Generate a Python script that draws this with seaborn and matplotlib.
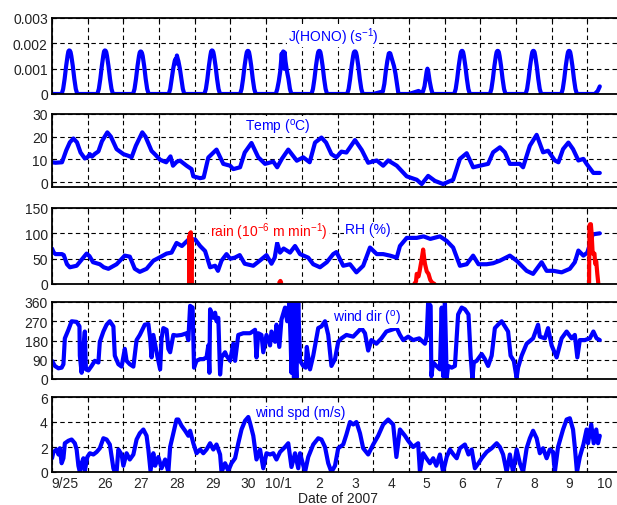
import numpy as np
import pandas as pd
import matplotlib
matplotlib.use("Agg")
import matplotlib.pyplot as plt
import seaborn as sns

sns.set_style("ticks")
plt.rcParams["font.family"] = ["Liberation Sans", "DejaVu Sans"]
plt.rcParams["mathtext.default"] = "regular"
plt.rcParams["font.size"] = 10

# ---------------- data (days since 9/25 00:00, 2007) ----------------
day_labels = ["9/25", "26", "27", "28", "29", "30", "10/1", "2", "3", "4",
              "5", "6", "7", "8", "9", "10"]

# J(HONO): sample hours of each day and the value rows for days 0..14
j_hours = [0, 6.5, 7.5, 8.5, 9.5, 10.5, 11, 11.5, 12, 12.5, 13, 14, 15, 16, 17]
j_day_rows = [
    [0, 0, 0.0002, 0.0006, 0.0011, 0.00152, 0.00168, 0.00172, 0.00171, 0.00165, 0.0015, 0.0011, 0.0006, 0.0002, 0],
    [0, 0, 0.0002, 0.0006, 0.0011, 0.00152, 0.00168, 0.00172, 0.00171, 0.00165, 0.0015, 0.0011, 0.0006, 0.0002, 0],
    [0, 0, 0.0002, 0.0006, 0.0011, 0.0015, 0.00164, 0.00168, 0.00167, 0.00162, 0.0015, 0.0011, 0.0006, 0.0002, 0],
    [0, 0, 0.0002, 0.0006, 0.0010, 0.0013, 0.00138, 0.0012, 0.00152, 0.0014, 0.0013, 0.0010, 0.0006, 0.0002, 0],
    [0, 0, 0.0002, 0.0006, 0.0011, 0.00152, 0.00168, 0.00172, 0.00171, 0.00165, 0.0015, 0.0011, 0.0006, 0.0002, 0],
    [0, 0, 0.0002, 0.0006, 0.0011, 0.0015, 0.00165, 0.0017, 0.0017, 0.00165, 0.0015, 0.0011, 0.0006, 0.0002, 0],
    [0, 0, 0.0002, 0.0005, 0.0009, 0.0016, 0.0011, 0.00168, 0.0010, 0.00164, 0.0013, 0.0009, 0.0006, 0.0002, 0],
    [0, 0, 0.0002, 0.0006, 0.0011, 0.0015, 0.00165, 0.0017, 0.0017, 0.00165, 0.0015, 0.0011, 0.0006, 0.0002, 0],
    [0, 0, 0.0002, 0.0006, 0.0011, 0.0015, 0.00164, 0.00168, 0.00168, 0.00163, 0.0015, 0.0011, 0.0006, 0.0002, 0],
    [0, 0.0001, 0.0004, 0.0009, 0.0013, 0.0016, 0.00162, 0.0016, 0.0015, 0.0014, 0.0013, 0.0011, 0.0008, 0.0004, 0],
    [0, 0.00012, 0.00008, 0, 0.0001, 0.0003, 0.0005, 0.0007, 0.0009, 0.0010, 0.0009, 0.0005, 0.0002, 0, 0],
    [0, 0, 0.0002, 0.0006, 0.0011, 0.0015, 0.00165, 0.0017, 0.0017, 0.00165, 0.0015, 0.0011, 0.0006, 0.0002, 0],
    [0, 0, 0.0002, 0.0006, 0.0011, 0.0015, 0.00165, 0.0017, 0.0017, 0.00165, 0.0015, 0.0011, 0.0006, 0.0002, 0],
    [0, 0, 0.0002, 0.0006, 0.0011, 0.0015, 0.00165, 0.0017, 0.0017, 0.00165, 0.0015, 0.0011, 0.0006, 0.0002, 0],
    [0, 0, 0.0002, 0.0006, 0.0011, 0.0015, 0.00165, 0.0017, 0.0017, 0.00165, 0.0015, 0.0011, 0.0006, 0.0002, 0],
]
j_tail_hours = [0, 5, 7, 8.4]          # last (partial) day, 10/10
j_tail_vals = [0, 0, 0.00012, 0.0003]

temp_t = [0, 0.1, 0.28, 0.4, 0.5, 0.6, 0.7, 0.8, 0.92, 1.0, 1.06, 1.12, 1.2, 1.3, 1.4,
          1.55, 1.65, 1.81, 2.0, 2.15, 2.23, 2.35, 2.53, 2.62, 2.79, 2.9, 3.03, 3.2,
          3.32, 3.39, 3.5, 3.59, 3.77, 3.91, 3.96, 4.15, 4.25, 4.38, 4.61, 4.8, 4.99,
          5.08, 5.27, 5.4, 5.59, 5.78, 5.97, 6.2, 6.31, 6.44, 6.62, 6.86, 7.04, 7.22,
          7.37, 7.55, 7.68, 7.83, 7.97, 8.11, 8.25, 8.49, 8.68, 8.86, 9.1, 9.28, 9.42,
          9.66, 9.94, 10.22, 10.36, 10.54, 10.73, 10.96, 11.24, 11.43, 11.62, 11.8,
          11.99, 12.22, 12.36, 12.55, 12.69, 12.83, 13.11, 13.2, 13.39, 13.58, 13.76,
          13.9, 14.09, 14.19, 14.32, 14.47, 14.6, 14.75, 14.89, 14.98, 15.17, 15.35]
temp_v = [8.7, 8.5, 8.7, 14, 17.5, 19.2, 17.5, 13, 10.4, 11, 12.3, 11.2, 12.4, 13.5, 18,
          21.9, 20, 14.5, 12.3, 11.5, 10.9, 16, 21.9, 20, 13.7, 12, 9.8, 8.7,
          11.3, 7.2, 9, 9.4, 7.2, 5.7, 2.5, 1.7, 2.0, 10.8, 14.3, 8, 7.2,
          5.7, 6.5, 13, 17.2, 10.9, 8, 9, 6.5, 10.2, 14.3, 9.4, 10.9, 8.7,
          17.4, 19.6, 17.4, 12.3, 10.9, 13.4, 13, 18.5, 14.1, 8.5, 9.5, 7.2, 9.5,
          7.2, 2.5, 1.0, -0.9, 2.7, 0.5, -0.9, 1.0, 10.2, 12.7, 6.5,
          7.2, 8, 13.1, 15.3, 13.1, 8, 8, 6.5, 16, 20.8, 13.1,
          13.8, 9.5, 8.7, 14.5, 17.4, 14.5, 9.5, 10.2, 8, 4, 4]

rh_t = [0, 0.05, 0.1, 0.28, 0.33, 0.42, 0.5, 0.69, 0.97, 1.05, 1.15, 1.34, 1.45, 1.58,
        1.81, 2.04, 2.18, 2.32, 2.46, 2.65, 2.84, 3.03, 3.21, 3.35, 3.49, 3.64, 3.83,
        4.01, 4.15, 4.29, 4.43, 4.57, 4.65, 4.75, 4.89, 4.99, 5.12, 5.26, 5.4, 5.64,
        5.82, 6.01, 6.15, 6.24, 6.31, 6.39, 6.49, 6.67, 6.81, 6.95, 7.18, 7.32, 7.51,
        7.7, 7.88, 7.97, 8.16, 8.35, 8.53, 8.72, 8.91, 9.1, 9.28, 9.47, 9.66, 9.75,
        9.94, 10.22, 10.41, 10.6, 10.87, 11.06, 11.24, 11.43, 11.62, 11.8, 11.95,
        12.18, 12.36, 12.55, 12.83, 13.02, 13.3, 13.48, 13.72, 13.86, 14.05, 14.28,
        14.51, 14.65, 14.75, 14.89, 15.0, 15.1, 15.15, 15.35]
rh_v = [70, 62, 59, 59, 57, 39, 33, 36, 60, 55, 43, 39, 33, 30,
        39, 56, 54, 30, 24, 30, 46, 53, 60, 62, 81, 75, 88,
        88, 75, 65, 33, 36, 26, 46, 59, 50, 52, 57, 40, 36,
        46, 57, 40, 52, 81, 62, 70, 62, 75, 59, 52, 39, 33,
        43, 59, 63, 36, 39, 23, 36, 72, 59, 59, 56, 52, 75,
        91, 91, 94, 89, 94, 85, 72, 36, 39, 56, 39,
        39, 41, 46, 56, 46, 26, 20, 43, 26, 26, 23,
        30, 43, 66, 56, 62, 85, 98, 100]

rain_event = [1, 1, 1, 1, 1, 1, 1, 1, 1,
              2, 2, 2,
              3, 3, 3, 3, 3, 3, 3, 3, 3, 3, 3, 3, 3, 3,
              4, 4, 4, 4, 4, 4, 4, 4, 4, 4, 4]
rain_t = [3.84, 3.85, 3.86, 3.87, 3.88, 3.89, 3.90, 3.91, 3.92,
          6.37, 6.40, 6.42,
          10.15, 10.2, 10.22, 10.27, 10.3, 10.35, 10.4, 10.43, 10.45, 10.5, 10.55, 10.6, 10.65, 10.72,
          15.05, 15.06, 15.08, 15.1, 15.12, 15.15, 15.2, 15.22, 15.25, 15.28, 15.31]
rain_v = [0, 95, 10, 100, 20, 102, 30, 90, 0,
          3, 6, 3,
          0, 5, 20, 15, 25, 45, 68, 50, 40, 25, 20, 8, 3, 0,
          0, 115, 118, 118, 100, 60, 60, 40, 45, 20, 0]

wd_t = [0, 0.08, 0.18, 0.27, 0.32, 0.36, 0.46, 0.55, 0.69, 0.77, 0.78, 0.83, 0.88, 0.92,
        0.95, 1.02, 1.11, 1.2, 1.3, 1.34, 1.44, 1.53, 1.62, 1.72, 1.76, 1.86, 1.95, 2.04,
        2.09, 2.18, 2.28, 2.37, 2.46, 2.6, 2.7, 2.75, 2.79, 2.84, 2.93, 3.03, 3.07, 3.12,
        3.21, 3.26, 3.31, 3.4, 3.49, 3.63, 3.77, 3.82, 3.87, 3.94, 3.98, 4.05, 4.15, 4.24,
        4.33, 4.38, 4.41, 4.43, 4.52, 4.57, 4.61, 4.66, 4.71, 4.75, 4.85, 4.89, 4.99, 5.08,
        5.13, 5.22, 5.36, 5.55, 5.69, 5.73, 5.78, 5.87, 5.92, 6.01, 6.11, 6.15, 6.25, 6.29,
        6.37, 6.43, 6.53, 6.59, 6.65, 6.69, 6.71, 6.74, 6.78, 6.81, 6.83, 6.85, 6.9, 6.95,
        7.04, 7.11, 7.14, 7.23, 7.32, 7.46, 7.55, 7.65, 7.74, 7.83, 7.93, 8.02, 8.11, 8.25,
        8.44, 8.58, 8.67, 8.77, 8.86, 8.95, 9.09, 9.23, 9.37, 9.52, 9.66, 9.75, 9.84, 9.98,
        10.12, 10.29, 10.45, 10.5, 10.54, 10.61, 10.63, 10.68, 10.77, 10.87, 10.92, 10.96,
        11.01, 11.06, 11.1, 11.2, 11.29, 11.38, 11.48, 11.57, 11.67, 11.73, 11.78, 11.82,
        11.9, 12.04, 12.13, 12.22, 12.32, 12.41, 12.5, 12.6, 12.69, 12.78, 12.85, 12.94,
        13.02, 13.06, 13.16, 13.3, 13.48, 13.62, 13.67, 13.81, 13.9, 14.0, 14.14, 14.28,
        14.42, 14.56, 14.65, 14.72, 14.79, 14.93, 15.07, 15.17, 15.26, 15.35]
wd_v = [85, 61, 50, 53, 69, 190, 230, 270, 267, 246, 109, 29, 150, 222,
        45, 40, 61, 85, 77, 174, 222, 254, 270, 246, 109, 69, 58, 141,
        85, 69, 58, 182, 206, 254, 257, 190, 101, 206, 125, 45, 190, 238,
        230, 141, 125, 206, 203, 206, 214, 182, 342, 334, 53, 85, 93, 93,
        101, 157, 29, 326, 286, 310, 270, 286, 21, 101, 125, 109, 85, 165,
        85, 206, 214, 214, 230, 101, 214, 206, 125, 206, 157, 222, 174, 254,
        150, 278, 334, 270, 358, 160, 29, 358, 5, 358, 61, 5, 358, 85,
        61, 53, 150, 45, 109, 238, 246, 270, 206, 61, 93, 174, 190, 206,
        198, 222, 238, 214, 133, 182, 165, 190, 222, 230, 238, 206, 182, 198,
        182, 190, 165, 200, 358, 342, 13, 77, 61, 45, 334, 13,
        358, 5, 61, 53, 61, 302, 334, 326, 302, 109, 0, 77,
        85, 117, 93, 61, 109, 238, 254, 270, 246, 222, 109, 85,
        5, 53, 109, 165, 190, 254, 198, 190, 238, 157, 101, 190,
        222, 190, 206, 101, 182, 182, 190, 222, 190, 182]

ws_t = [0, 0.04, 0.13, 0.18, 0.22, 0.27, 0.32, 0.36, 0.46, 0.55, 0.64, 0.69, 0.74, 0.78,
        0.83, 0.88, 0.92, 0.99, 1.06, 1.16, 1.25, 1.34, 1.44, 1.53, 1.62, 1.72, 1.76, 1.81,
        1.86, 1.95, 2.0, 2.09, 2.18, 2.28, 2.37, 2.46, 2.56, 2.65, 2.7, 2.76, 2.84, 2.89,
        2.98, 3.07, 3.17, 3.26, 3.31, 3.4, 3.49, 3.54, 3.63, 3.73, 3.82, 3.87, 3.96, 4.05,
        4.15, 4.24, 4.33, 4.43, 4.52, 4.61, 4.71, 4.75, 4.85, 4.94, 5.03, 5.13, 5.22, 5.31,
        5.41, 5.5, 5.56, 5.64, 5.73, 5.83, 5.92, 6.01, 6.11, 6.2, 6.29, 6.39, 6.53, 6.62,
        6.71, 6.81, 6.9, 6.95, 7.09, 7.18, 7.32, 7.46, 7.55, 7.65, 7.74, 7.83, 7.93, 8.02,
        8.16, 8.25, 8.35, 8.44, 8.53, 8.63, 8.72, 8.86, 9.0, 9.14, 9.28, 9.42, 9.56, 9.65,
        9.75, 9.89, 9.98, 10.12, 10.26, 10.31, 10.4, 10.49, 10.59, 10.68, 10.77, 10.87,
        10.96, 11.06, 11.15, 11.25, 11.34, 11.43, 11.57, 11.67, 11.76, 11.85, 11.95, 12.04,
        12.18, 12.32, 12.46, 12.55, 12.64, 12.74, 12.83, 12.92, 13.02, 13.11, 13.2, 13.3,
        13.39, 13.48, 13.58, 13.67, 13.76, 13.86, 13.95, 14.04, 14.09, 14.18, 14.32, 14.42,
        14.51, 14.6, 14.65, 14.71, 14.79, 14.89, 14.98, 15.02, 15.11, 15.18, 15.25, 15.3, 15.35]
ws_v = [1.1, 1.6, 1.8, 1.4, 1.9, 0.7, 1.1, 2.3, 2.5, 2.6, 2.3, 1.8, 0.5, 0,
        0.7, 1.1, 0.1, 1.2, 1.5, 1.4, 1.6, 1.9, 2.7, 2.6, 2.2, 0.3, 0, 0,
        1.8, 1.4, 0.5, 1.5, 1.0, 1.4, 2.6, 3.1, 3.4, 2.9, 1.8, 0.1, 1.5, 0.5,
        1.2, 0.3, 1.0, 0, 2.0, 3.1, 4.2, 4.2, 3.7, 3.3, 2.9, 3.3, 2.3, 1.5,
        1.8, 1.5, 1.8, 2.3, 1.8, 2.2, 1.4, 0, 0.7, 0.1, 0.7, 1.1, 2.3, 3.4,
        4.1, 4.4, 3.8, 2.9, 1.0, 1.8, 0.3, 1.5, 1.4, 1.5, 1.0, 1.6, 2.0, 2.3,
        0.4, 1.5, 0.3, 1.5, 0, 1.2, 2.2, 2.7, 2.6, 2.0, 0.7, 0, 0.5, 1.9,
        2.2, 3.0, 4.0, 3.8, 4.0, 3.1, 1.9, 1.4, 2.2, 2.9, 3.8, 4.2, 3.8, 1.2,
        3.4, 2.9, 2.5, 2.0, 2.3, 0, 1.5, 1.1, 0.7, 1.1, 0.5, 1.4,
        0, 1.2, 1.8, 1.4, 1.1, 1.9, 2.2, 1.4, 1.8, 0.3, 0.7, 1.1,
        1.6, 1.9, 2.3, 2.0, 1.4, 0, 1.4, 0, 1.8, 0.7, 0, 1.9,
        2.7, 3.3, 2.7, 1.5, 1.9, 1.1, 1.8, 1.6, 0, 2.0, 3.4, 4.2,
        4.3, 3.4, 2.0, 0, 1.2, 2.2, 3.4, 2.3, 3.8, 2.3, 3.4, 2.3, 2.9]

# ---------------- build tables ----------------
j_t, j_v = [], []
for d, row in enumerate(j_day_rows):
    j_t.extend(d + np.array(j_hours) / 24.0)
    j_v.extend(row)
j_t.extend(len(j_day_rows) + np.array(j_tail_hours) / 24.0)
j_v.extend(j_tail_vals)
df_j = pd.DataFrame({"t": j_t, "v": j_v})
df_temp = pd.DataFrame({"t": temp_t, "v": temp_v})
df_rh = pd.DataFrame({"t": rh_t, "v": rh_v})
df_rain = pd.DataFrame({"t": rain_t, "v": rain_v, "event": rain_event})
df_wd = pd.DataFrame({"t": wd_t, "v": wd_v})
df_ws = pd.DataFrame({"t": ws_t, "v": ws_v})

# ---------------- figure ----------------
W, H = 617, 506
fig = plt.figure(figsize=(W / 100, H / 100), dpi=100)
left_px, right_px = 52, 623
panels_px = [(19, 95), (115, 188), (209, 285), (303, 380), (398, 473)]
axes = [fig.add_axes([left_px / W, 1 - b / H, (right_px - left_px) / W, (b - t) / H])
        for t, b in panels_px]

blue = (0, 0, 1)
red = (1, 0, 0)
lw = 3.0

sns.lineplot(data=df_j, x="t", y="v", ax=axes[0], color=blue, linewidth=lw,
             estimator=None, sort=False)
sns.lineplot(data=df_temp, x="t", y="v", ax=axes[1], color=blue, linewidth=lw,
             estimator=None, sort=False)
sns.lineplot(data=df_rh, x="t", y="v", ax=axes[2], color=blue, linewidth=lw,
             estimator=None, sort=False)
sns.lineplot(data=df_rain, x="t", y="v", units="event", ax=axes[2], color=red,
             linewidth=lw, estimator=None, sort=False)
sns.lineplot(data=df_wd, x="t", y="v", ax=axes[3], color=blue, linewidth=lw,
             estimator=None, sort=False)
sns.lineplot(data=df_ws, x="t", y="v", ax=axes[4], color=blue, linewidth=lw,
             estimator=None, sort=False)

ylims = [(0, 0.003), (-2.2, 30), (0, 150), (0, 360), (0, 6)]
yticks = [[0, 0.001, 0.002, 0.003], [0, 10, 20, 30], [0, 50, 100, 150],
          [0, 90, 180, 270, 360], [0, 2, 4, 6]]
yticklabels = [["0", "0.001", "0.002", "0.003"], None, None, None, None]

label_pos = np.arange(16) + 0.5
label_pos[0] -= 0.13
label_pos[6] -= 0.15

for i, ax in enumerate(axes):
    ax.set_xlim(0, 16)
    ax.set_ylim(*ylims[i])
    ax.set_yticks(yticks[i])
    if yticklabels[i] is not None:
        ax.set_yticklabels(yticklabels[i])
    ax.set_xticks(np.arange(0, 17))
    ax.set_xticklabels([])
    ax.set_xlabel("")
    ax.set_ylabel("")
    ax.grid(True, color="black", linestyle=(0, (4, 3)), linewidth=0.8)
    ax.set_axisbelow(True)
    for s in ax.spines.values():
        s.set_visible(True)
        s.set_linewidth(1.3)
        s.set_color("black")
    ax.tick_params(axis="both", which="major", direction="in", length=3,
                   top=True, right=True, labelsize=10, pad=3, colors="black")
    ax.tick_params(axis="y", labelcolor="#222222")

# bottom axis day labels at noon
axb = axes[4]
axb.set_xticks(label_pos, minor=True)
axb.set_xticklabels(day_labels, minor=True)
axb.tick_params(axis="x", which="minor", length=0, pad=3, labelsize=10)
fig.text((left_px + right_px) / 2 / W, 1 - 503 / H, "Date of 2007",
         ha="center", va="baseline", fontsize=10, color="#222222")

bbox = dict(facecolor="white", edgecolor="none", pad=0.5)
axes[0].text(0.413, 0.767, r"J(HONO) (s$^{-1}$)", transform=axes[0].transAxes,
             color=blue, ha="left", va="center", fontsize=10, bbox=bbox, zorder=3)
axes[1].text(0.338, 0.83, r"Temp ($^{o}$C)", transform=axes[1].transAxes,
             color=blue, ha="left", va="center", fontsize=10, bbox=bbox, zorder=3)
axes[2].text(0.277, 0.70, r"rain (10$^{-6}$ m min$^{-1}$)", transform=axes[2].transAxes,
             color=red, ha="left", va="center", fontsize=10, bbox=bbox, zorder=3)
axes[2].text(0.513, 0.72, "RH (%)", transform=axes[2].transAxes,
             color=blue, ha="left", va="center", fontsize=10, bbox=bbox, zorder=3)
axes[3].text(0.492, 0.80, r"wind dir ($^{o}$)", transform=axes[3].transAxes,
             color=blue, ha="left", va="center", fontsize=10, bbox=bbox, zorder=3)
axes[4].text(0.356, 0.796, "wind spd (m/s)", transform=axes[4].transAxes,
             color=blue, ha="left", va="center", fontsize=10, bbox=bbox, zorder=3)

fig.savefig("out.png", dpi=100)
